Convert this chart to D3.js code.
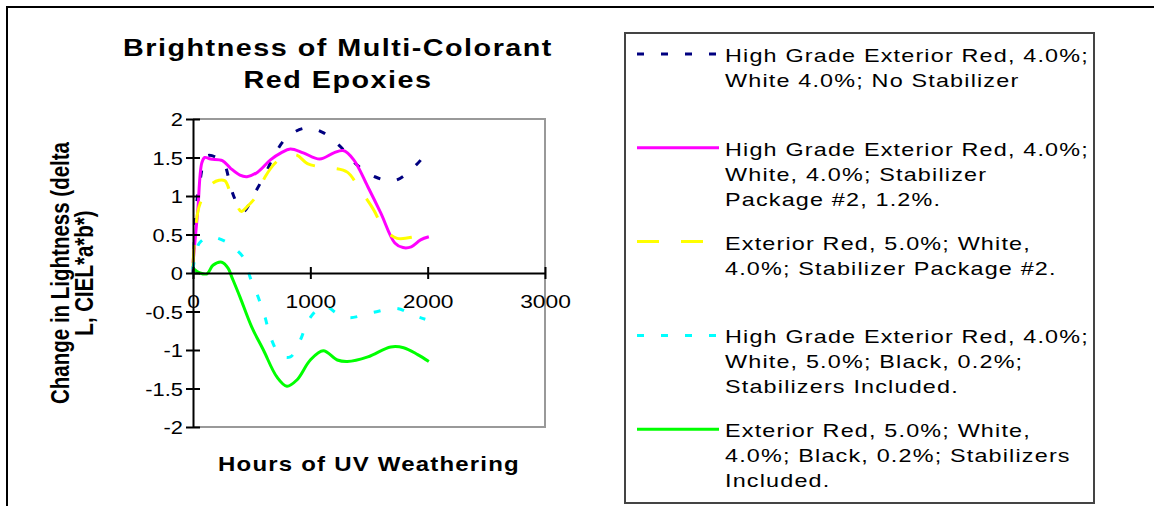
<!DOCTYPE html>
<html>
<head>
<meta charset="utf-8">
<script src="https://cdn.jsdelivr.net/npm/d3@7"></script>
<style>
  body { margin: 0; background: #fff; }
  svg { display: block; font-family: "Liberation Sans", Arial, sans-serif; }
  .tick text { fill: #000; }
</style>
</head>
<body>
<svg id="chart" width="1154" height="506"></svg>
<script>
// hours of UV weathering / change in lightness
var navyHours   = [0, 25, 50, 120, 200, 270, 320, 370, 430, 520, 620, 700, 800, 950, 1100, 1250, 1400, 1550, 1720, 1900, 2000];
var navyValues  = [0, 0.8, 1.1, 1.52, 1.5, 1.4, 1.12, 0.92, 0.8, 1.02, 1.3, 1.55, 1.76, 1.88, 1.83, 1.65, 1.4, 1.25, 1.2, 1.4, 1.58];

var pinkHours   = [0, 40, 75, 100, 150, 250, 320, 400, 460, 550, 660, 750, 830, 940, 1080, 1200, 1280, 1370, 1490, 1600, 1720, 1790, 1860, 1940, 2010];
var pinkValues  = [0.13, 0.8, 1.43, 1.5, 1.48, 1.46, 1.36, 1.27, 1.25, 1.31, 1.47, 1.56, 1.61, 1.56, 1.48, 1.56, 1.59, 1.47, 1.12, 0.78, 0.39, 0.33, 0.34, 0.43, 0.47];

var yellowHours  = [0, 20, 60, 170, 270, 320, 360, 410, 460, 545, 615, 715, 800, 885, 975, 1085, 1200, 1315, 1425, 1540, 1625, 1740, 1880, 1960];
var yellowValues = [0.08, 0.55, 0.9, 1.17, 1.2, 1.03, 0.93, 0.8, 0.86, 1.01, 1.25, 1.45, 1.53, 1.53, 1.42, 1.38, 1.36, 1.31, 1.08, 0.82, 0.58, 0.45, 0.47, 0.51];

var cyanHours   = [0, 30, 60, 145, 290, 330, 430, 490, 545, 615, 660, 745, 830, 915, 985, 1110, 1255, 1340, 1540, 1740, 1880, 1980];
var cyanValues  = [0.05, 0.3, 0.4, 0.47, 0.4, 0.35, 0.2, -0.07, -0.27, -0.58, -0.83, -1.07, -1.09, -0.87, -0.61, -0.43, -0.55, -0.58, -0.51, -0.46, -0.55, -0.6];

var greenHours  = [0, 60, 120, 170, 245, 300, 330, 400, 500, 600, 715, 800, 885, 1000, 1110, 1230, 1315, 1490, 1685, 1795, 1915, 2010];
var greenValues = [0.06, 0, -0.01, 0.1, 0.14, 0.06, -0.05, -0.31, -0.7, -1.0, -1.35, -1.47, -1.39, -1.13, -1.01, -1.13, -1.15, -1.09, -0.96, -0.97, -1.06, -1.15];

var xTicks = [0, 1000, 2000, 3000];
var yTicks = [2, 1.5, 1, 0.5, 0, -0.5, -1, -1.5, -2];

var titleLines  = ["Brightness of Multi-Colorant", "Red Epoxies"];
var xTitle      = "Hours of UV Weathering";
var yTitleLines = ["Change in Lightness (delta", "L, CIEL*a*b*)"];

var legendLabels = [
  ["High Grade Exterior Red, 4.0%;", "White 4.0%; No Stabilizer"],
  ["High Grade Exterior Red, 4.0%;", "White, 4.0%; Stabilizer", "Package #2, 1.2%."],
  ["Exterior Red, 5.0%; White,", "4.0%; Stabilizer Package #2."],
  ["High Grade Exterior Red, 4.0%;", "White, 5.0%; Black, 0.2%;", "Stabilizers Included."],
  ["Exterior Red, 5.0%; White,", "4.0%; Black, 0.2%; Stabilizers", "Included."]
];

var series = [
  { hours: navyHours,   values: navyValues,   color: "#000080", dash: "7,17" },
  { hours: pinkHours,   values: pinkValues,   color: "#ff00ff", dash: null },
  { hours: yellowHours, values: yellowValues, color: "#ffff00", dash: "22,22" },
  { hours: cyanHours,   values: cyanValues,   color: "#00ffff", dash: "7,17" },
  { hours: greenHours,  values: greenValues,  color: "#00ff00", dash: null }
];

var svg = d3.select("#chart");

// outer chart frame (only top and left edges show)
svg.append("path")
    .attr("d", "M7,506 V7 H1154")
    .attr("fill", "none")
    .attr("stroke", "#000")
    .attr("stroke-width", 2);

var plotLeft = 193, plotRight = 545, plotTop = 119, plotBottom = 427;

var x = d3.scaleLinear().domain([0, 3000]).range([plotLeft, plotRight]);
var y = d3.scaleLinear().domain([-2, 2]).range([plotBottom, plotTop]);

// wide old-style lettering: stretch text sideways
function wide(sel, px, py, sx) {
  sel.attr("transform", "translate(" + px + "," + py + ") scale(" + sx + ",1)");
}

// plot area border
svg.append("path")
    .attr("d", "M" + plotLeft + "," + plotTop + " H" + plotRight + " V" + plotBottom + " H" + plotLeft)
    .attr("fill", "none")
    .attr("stroke", "#999")
    .attr("stroke-width", 2);

// lines
var line = d3.line()
    .x(function(d) { return x(d[0]); })
    .y(function(d) { return y(d[1]); })
    .curve(d3.curveCatmullRom.alpha(0.5));

svg.append("g")
    .selectAll("path")
    .data(series)
    .enter().append("path")
    .attr("d", function(s) { return line(s.hours.map(function(h, i) { return [h, s.values[i]]; })); })
    .attr("fill", "none")
    .attr("stroke", function(s) { return s.color; })
    .attr("stroke-width", 3)
    .attr("stroke-dasharray", function(s) { return s.dash; });

// y axis
var yAxis = svg.append("g")
    .attr("transform", "translate(" + plotLeft + ",0)")
    .call(d3.axisLeft(y).tickValues(yTicks).tickSize(0).tickSizeOuter(0));
yAxis.select(".domain").attr("stroke", "#000").attr("stroke-width", 2);
yAxis.selectAll(".tick line").attr("x1", -7).attr("x2", 7).attr("stroke", "#000").attr("stroke-width", 2);
yAxis.selectAll(".tick text")
    .attr("x", 0).attr("dy", "0.36em")
    .style("font-size", "19px")
    .text(function(d) { return String(d); })
    .each(function() { wide(d3.select(this), -10, 0, 1.15); });

// x axis through zero
var xAxis = svg.append("g")
    .attr("transform", "translate(0," + y(0) + ")")
    .call(d3.axisBottom(x).tickValues(xTicks).tickSize(0).tickSizeOuter(0).tickFormat(d3.format("d")));
xAxis.select(".domain").attr("stroke", "#000").attr("stroke-width", 2);
xAxis.selectAll(".tick line").attr("y1", -6).attr("y2", 6).attr("stroke", "#000").attr("stroke-width", 2);
xAxis.selectAll(".tick text")
    .attr("y", 0).attr("dy", null)
    .style("font-size", "19px")
    .each(function() { wide(d3.select(this), 0, 35, 1.2); });

// titles
svg.append("g")
    .selectAll("text")
    .data(titleLines)
    .enter().append("text")
    .attr("text-anchor", "middle")
    .style("font-size", "23px")
    .style("font-weight", "bold")
    .style("letter-spacing", "1.2px")
    .text(function(d) { return d; })
    .each(function(d, i) { wide(d3.select(this), 338, 56 + i * 32, 1.25); });

wide(svg.append("text")
    .attr("text-anchor", "middle")
    .style("font-size", "20px")
    .style("font-weight", "bold")
    .style("letter-spacing", "1px")
    .text(xTitle), (plotLeft + plotRight) / 2, 471, 1.2);

// y title: tall, narrow lettering
svg.append("g")
    .selectAll("text")
    .data(yTitleLines)
    .enter().append("text")
    .attr("transform", function(d, i) {
      return "translate(" + (69 + i * 24) + "," + (plotTop + plotBottom) / 2 + ") rotate(-90) scale(0.82,1)";
    })
    .attr("text-anchor", "middle")
    .style("font-size", "25px")
    .style("font-weight", "bold")
    .text(function(d) { return d; });

// legend
svg.append("rect")
    .attr("x", 625).attr("y", 33)
    .attr("width", 469).attr("height", 470)
    .attr("fill", "#fff")
    .attr("stroke", "#444")
    .attr("stroke-width", 2);

var legend = svg.append("g")
    .selectAll("g")
    .data(series)
    .enter().append("g")
    .attr("transform", function(d, i) { return "translate(0," + (62 + i * 93.8) + ")"; });

legend.append("line")
    .attr("x1", 637).attr("x2", 719)
    .attr("y1", -8).attr("y2", -8)
    .attr("stroke", function(s) { return s.color; })
    .attr("stroke-width", 3)
    .attr("stroke-dasharray", function(s) { return s.dash; });

legend.append("text")
    .style("font-size", "18px")
    .style("letter-spacing", "0.9px")
    .each(function() { wide(d3.select(this), 725, 0, 1.3); })
    .selectAll("tspan")
    .data(function(d, i) { return legendLabels[i]; })
    .enter().append("tspan")
    .attr("x", 0)
    .attr("y", function(d, i) { return i * 25; })
    .text(function(d) { return d; });
</script>
</body>
</html>
